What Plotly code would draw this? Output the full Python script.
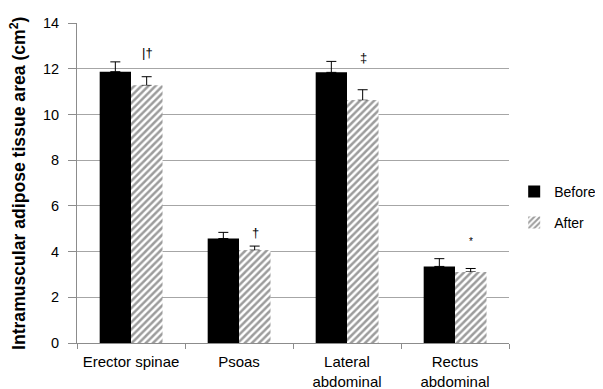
import plotly.graph_objects as go

categories = ["Erector spinae", "Psoas", "Lateral<br>abdominal", "Rectus<br>abdominal"]
before_vals = [11.87, 4.57, 11.84, 3.35]
before_err = [0.43, 0.27, 0.48, 0.34]
after_vals = [11.27, 4.06, 10.62, 3.11]
after_err = [0.38, 0.18, 0.46, 0.15]
sig_marks = ["|†", "†", "‡", "*"]
sig_y = [12.72, 4.85, 12.5, 4.45]
y_title = "<b>Intramuscular adipose tissue area (cm<sup>2</sup>)</b>"

FONT = "Liberation Sans, Arial, sans-serif"
HATCH = dict(shape="/", fgcolor="#3a3a3a", bgcolor="white", size=5, solidity=0.5)

fig = go.Figure()
fig.add_trace(go.Bar(
    name="Before", x=categories, y=before_vals, offsetgroup="b", legendgroup="b",
    marker=dict(color="black", line=dict(width=0)),
    error_y=dict(type="data", array=before_err, arrayminus=[0]*4, symmetric=False,
                 color="black", thickness=1, width=5),
))
fig.add_trace(go.Bar(
    name="After", x=categories, y=after_vals, offsetgroup="a", legendgroup="a",
    marker=dict(color="white", line=dict(width=0), pattern=HATCH),
    error_y=dict(type="data", array=after_err, arrayminus=[0]*4, symmetric=False,
                 color="black", thickness=1, width=5),
))
# overlay of the same After bars (hides the lower cap of the error bars)
fig.add_trace(go.Bar(
    name="After", x=categories, y=after_vals, offsetgroup="a", legendgroup="a",
    showlegend=False, hoverinfo="skip",
    marker=dict(color="white", line=dict(width=0), pattern=HATCH),
))

for c, m, yv in zip(categories, sig_marks, sig_y):
    fig.add_annotation(x=c, y=yv, text=m, showarrow=False, xshift=16,
                       font=dict(family=FONT, size=13 if m != "*" else 10, color="black"))

fig.add_annotation(xref="paper", yref="paper", x=0, y=0.5, xanchor="center", yanchor="middle",
                   xshift=-59, yshift=-1, textangle=-90, showarrow=False, text=y_title,
                   font=dict(family=FONT, size=17.6, color="black"))

fig.update_layout(
    width=595, height=381,
    margin=dict(l=69, r=94, t=15, b=46, autoexpand=False),
    paper_bgcolor="white", plot_bgcolor="white",
    barmode="group", bargap=0.42, bargroupgap=0,
    font=dict(family=FONT, color="black", size=14),
    showlegend=True,
    legend=dict(x=1.012, y=0.424, xanchor="left", yanchor="middle",
                font=dict(family=FONT, size=14, color="black"),
                traceorder="grouped", tracegroupgap=10),
    xaxis=dict(showline=True, linecolor="#8c8c8c", linewidth=1, automargin=False,
               ticks="outside", tickson="boundaries", ticklen=5, tickcolor="#8c8c8c",
               ticklabelstandoff=5, tickangle=0,
               tickfont=dict(family=FONT, size=15, color="black"), showgrid=False),
    yaxis=dict(range=[0, 14], dtick=2, showline=True, linecolor="#8c8c8c", linewidth=1,
               automargin=False,
               ticks="outside", ticklen=8, tickcolor="#8c8c8c", ticklabelstandoff=6,
               gridcolor="#a6a6a6", gridwidth=1, zeroline=False,
               tickfont=dict(family=FONT, size=14.5, color="black")),
)

fig.write_html("out.html")
